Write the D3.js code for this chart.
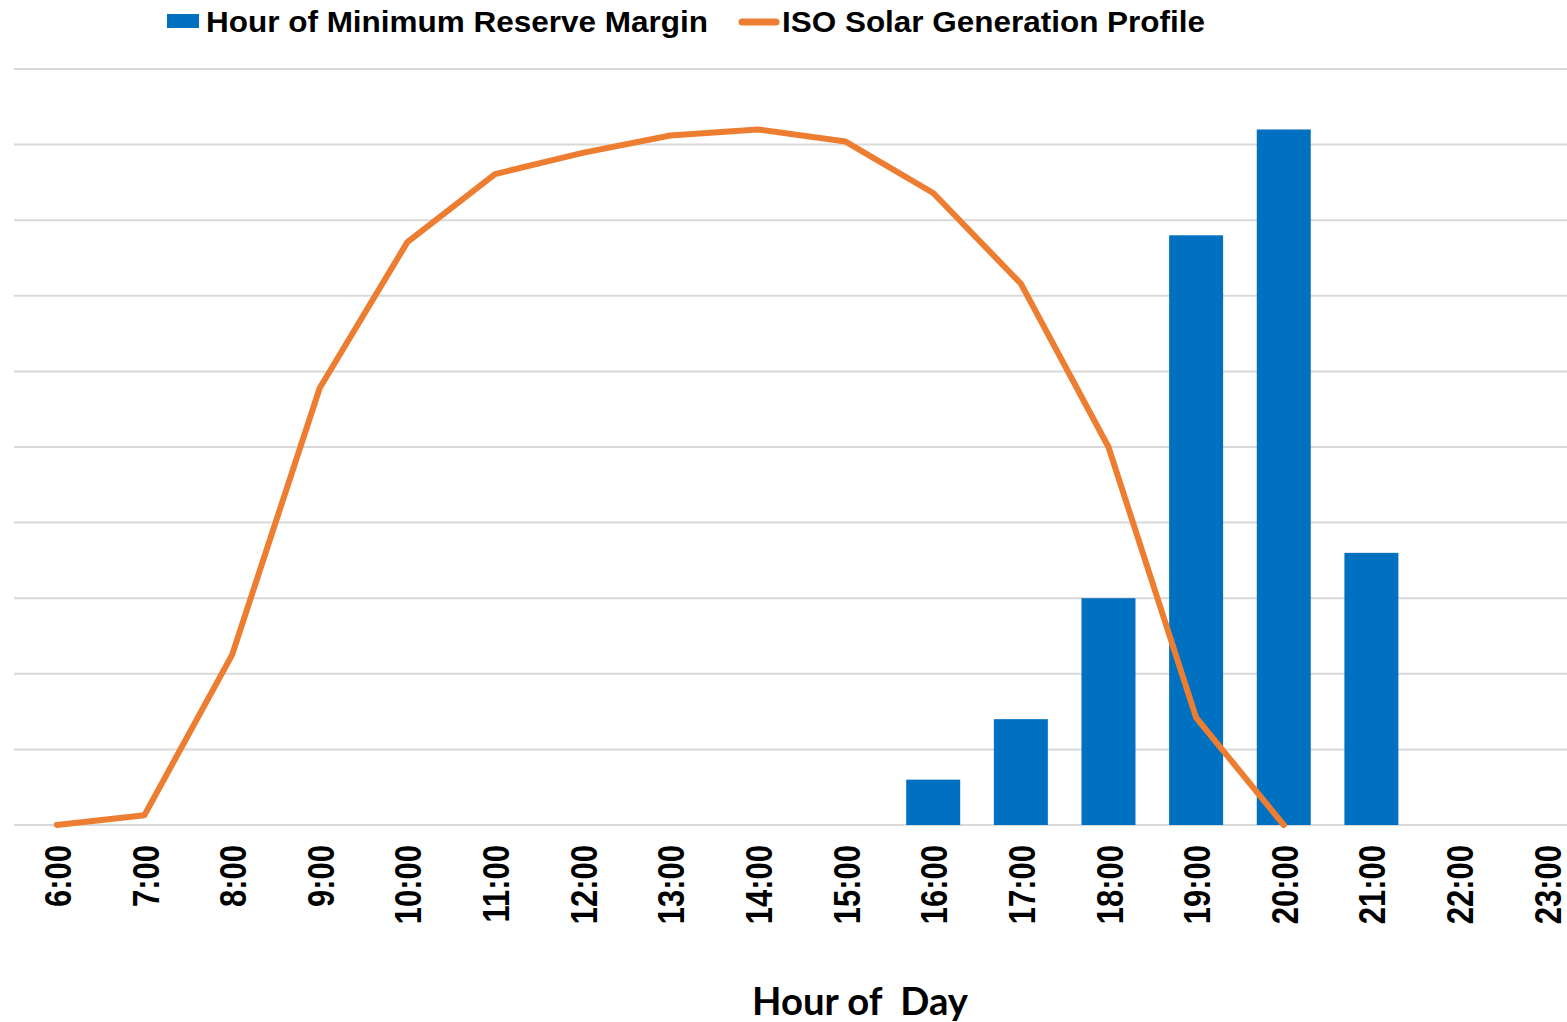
<!doctype html>
<html>
<head>
    <meta charset="utf-8" />
    <title>Minimum Reserve Margin vs Solar</title>
    <style>
        body { margin : 0; background : #fff; }
        svg { display : block; }
        .grid line { stroke : #d9d9d9; stroke-width : 2; }
        .tick-label { font-family : "Liberation Sans", Arial, sans-serif; font-weight : bold; font-size : 31px; fill : #000; }
        .legend { font-family : "Liberation Sans", Arial, sans-serif; font-weight : bold; font-size : 29px; fill : #000; }
        .axis-title { font-family : Lato, "Open Sans", sans-serif; font-weight : bold; font-size : 39px; fill : #000; white-space : pre; }
    </style>
</head>
<body>
    <div id="chart"></div>

    <script src="https://cdn.jsdelivr.net/npm/d3@7"></script>
    <script>
        // categories and values
        var hours = ["6:00", "7:00", "8:00", "9:00", "10:00", "11:00", "12:00", "13:00", "14:00",
                     "15:00", "16:00", "17:00", "18:00", "19:00", "20:00", "21:00", "22:00", "23:00"];
        var reserveMargin = [0, 0, 0, 0, 0, 0, 0, 0, 0, 0, 0.6, 1.4, 3.0, 7.8, 9.2, 3.6, 0, 0];
        var solarHours = ["6:00", "7:00", "8:00", "9:00", "10:00", "11:00", "12:00", "13:00", "14:00",
                          "15:00", "16:00", "17:00", "18:00", "19:00", "20:00"];
        var solarProfile = [0, 0.13, 2.25, 5.78, 7.71, 8.61, 8.89, 9.12, 9.2, 9.04, 8.36, 7.16, 5.0, 1.42, 0];
        var gridTicks = [0, 1, 2, 3, 4, 5, 6, 7, 8, 9, 10];

        var w = 1567, h = 1022;
        var plotLeft = 13, plotRight = 1590.5, plotTop = 69, plotBottom = 825;

        var svg = d3.select("#chart").append("svg").attr("width", w).attr("height", h);

        var x = d3.scaleBand().domain(hours).range([plotLeft, plotRight]).paddingInner(0.384).paddingOuter(0.192);
        var y = d3.scaleLinear().domain([0, 10]).range([plotBottom, plotTop]);

        // gridlines
        svg.append("g").attr("class", "grid").selectAll("line").data(gridTicks).enter().append("line")
            .attr("x1", plotLeft + 1).attr("x2", w)
            .attr("y1", function(d) { return y(d); })
            .attr("y2", function(d) { return y(d); });

        // bars
        var barData = hours.map(function(hr, i) { return { hour : hr, value : reserveMargin[i] }; })
            .filter(function(d) { return d.value > 0; });

        svg.append("g").selectAll("rect").data(barData).enter().append("rect")
            .attr("x", function(d) { return x(d.hour); })
            .attr("y", function(d) { return y(d.value); })
            .attr("width", x.bandwidth())
            .attr("height", function(d) { return y(0) - y(d.value); })
            .attr("fill", "#0070c0");

        // solar line
        var line = d3.line()
            .x(function(d, i) { return x(solarHours[i]) + x.bandwidth() / 2; })
            .y(function(d) { return y(d); });

        svg.append("path").datum(solarProfile)
            .attr("d", line)
            .attr("fill", "none")
            .attr("stroke", "#ed7d31")
            .attr("stroke-width", 6)
            .attr("stroke-linejoin", "round")
            .attr("stroke-linecap", "round");

        // x tick labels, rotated
        svg.append("g").selectAll("g").data(hours).enter().append("g")
            .attr("transform", function(d) {
                return "translate(" + (x(d) + x.bandwidth() / 2 + 1) + ",845) rotate(-90) scale(1,1.17)";
            })
            .append("text")
            .attr("class", "tick-label")
            .attr("text-anchor", "end")
            .attr("dy", "0.36em")
            .text(function(d) { return d; });

        // axis title
        svg.append("text").attr("class", "axis-title")
            .attr("x", 752).attr("y", 1015)
            .attr("textLength", 216).attr("lengthAdjust", "spacingAndGlyphs")
            .text("Hour of  Day");

        // legend
        var legend = svg.append("g");
        legend.append("rect").attr("x", 167).attr("y", 14).attr("width", 32).attr("height", 14).attr("fill", "#0070c0");
        legend.append("text").attr("class", "legend").attr("x", 206).attr("y", 32)
            .attr("textLength", 502).attr("lengthAdjust", "spacingAndGlyphs")
            .text("Hour of Minimum Reserve Margin");
        legend.append("line").attr("x1", 742).attr("x2", 776).attr("y1", 22).attr("y2", 22)
            .attr("stroke", "#ed7d31").attr("stroke-width", 7).attr("stroke-linecap", "round");
        legend.append("text").attr("class", "legend").attr("x", 782).attr("y", 32)
            .attr("textLength", 423).attr("lengthAdjust", "spacingAndGlyphs")
            .text("ISO Solar Generation Profile");
    </script>
</body>
</html>
